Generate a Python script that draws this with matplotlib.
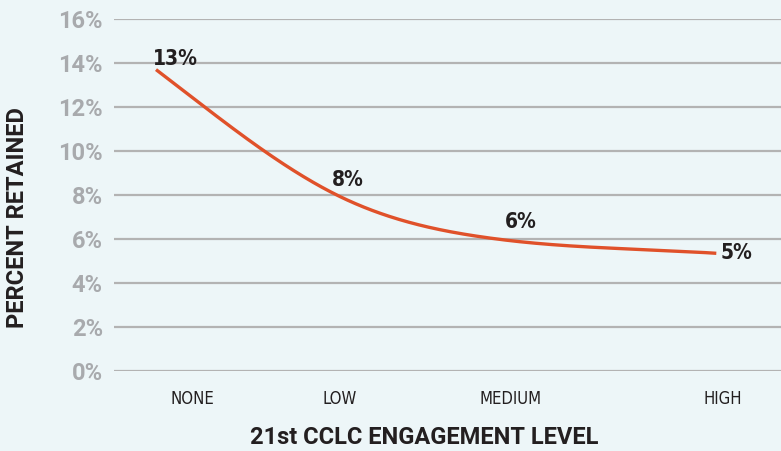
import numpy as np
import matplotlib
matplotlib.use("Agg")
import matplotlib.pyplot as plt
from matplotlib import font_manager

# data
levels = ["NONE", "LOW", "MEDIUM", "HIGH"]
retained = [13.7, 8.0, 6.0, 5.35]
value_labels = ["13%", "8%", "6%", "5%"]
yticks = [0, 2, 4, 6, 8, 10, 12, 14, 16]

# horizontal placement (axis runs 0..100)
point_x = [6.3, 33.4, 57.4, 90.3]
tick_x = [11.7, 33.9, 59.4, 91.2]
label_x = [9.2, 35.1, 61.0, 93.3]
label_y = [13.72, 8.25, 6.3, 5.35]
label_va = ["bottom", "bottom", "bottom", "center"]

BG = "#edf6f8"
LINE = "#e0512a"
GRID = "#b3b3b3"
INK = "#231f20"

# a condensed face for the small black labels, if one is installed
names = {f.name for f in font_manager.fontManager.ttflist}
if "Liberation Sans Narrow" in names:
    NARROW = dict(family="Liberation Sans Narrow")
else:
    NARROW = dict(family="DejaVu Sans", stretch="condensed")


def smooth(x, y, xs):
    # catmull-rom style tangents, limited so the curve never overshoots
    x = np.asarray(x, float)
    y = np.asarray(y, float)
    h = np.diff(x)
    d = np.diff(y) / h
    m = np.zeros_like(y)
    for k in range(1, len(x) - 1):
        m[k] = (y[k + 1] - y[k - 1]) / (x[k + 1] - x[k - 1])
        lim = 2 * min(abs(d[k - 1]), abs(d[k]))
        if abs(m[k]) > lim:
            m[k] = np.sign(m[k]) * lim
    m[0] = 1.1 * d[0]
    m[-1] = d[-1]
    out = np.empty_like(xs)
    for i, xv in enumerate(xs):
        k = min(max(np.searchsorted(x, xv) - 1, 0), len(x) - 2)
        t = (xv - x[k]) / h[k]
        h00 = 2 * t**3 - 3 * t**2 + 1
        h10 = t**3 - 2 * t**2 + t
        h01 = -2 * t**3 + 3 * t**2
        h11 = t**3 - t**2
        out[i] = h00 * y[k] + h10 * h[k] * m[k] + h01 * y[k + 1] + h11 * h[k] * m[k + 1]
    return out


fig = plt.figure(figsize=(7.81, 4.51), dpi=100, facecolor=BG)
ax = fig.add_axes([114 / 781, 80 / 451, 667 / 781, 352 / 451])
ax.set_facecolor(BG)
ax.set_xlim(0, 100)
ax.set_ylim(0, 16)

for v in yticks:
    ax.axhline(v, color=GRID, linewidth=1.6, zorder=1)

xs = np.linspace(point_x[0], point_x[-1], 400)
ax.plot(xs, smooth(point_x, retained, xs), color=LINE, linewidth=2.4, zorder=3,
        solid_capstyle="butt")

for lab, lx, ly, va in zip(value_labels, label_x, label_y, label_va):
    ax.text(lx, ly, lab, ha="center", va=va, fontsize=15, fontweight="bold",
            color=INK, zorder=4, **NARROW)

for s in ax.spines.values():
    s.set_visible(False)
ax.tick_params(length=0)
ax.set_yticks(yticks)
ax.set_yticklabels([f"{v}%" for v in yticks], fontsize=17, fontweight="bold",
                   family="Roboto", color="#a8aaad")
ax.tick_params(axis="y", pad=8)
ax.set_xticks(tick_x)
ax.set_xticklabels(levels, fontsize=12, color=INK, **NARROW)
ax.tick_params(axis="x", pad=14)

fig.text(424 / 781, 1 - 438 / 451, "21st CCLC ENGAGEMENT LEVEL", ha="center",
         va="center", fontsize=17, fontweight="bold", family="Roboto", color=INK)
fig.text(17.5 / 781, 1 - 218 / 451, "PERCENT RETAINED", rotation=90, ha="center",
         va="center", fontsize=17, fontweight="bold", family="Roboto", color=INK)

fig.savefig("out.png", dpi=100, facecolor=BG)
